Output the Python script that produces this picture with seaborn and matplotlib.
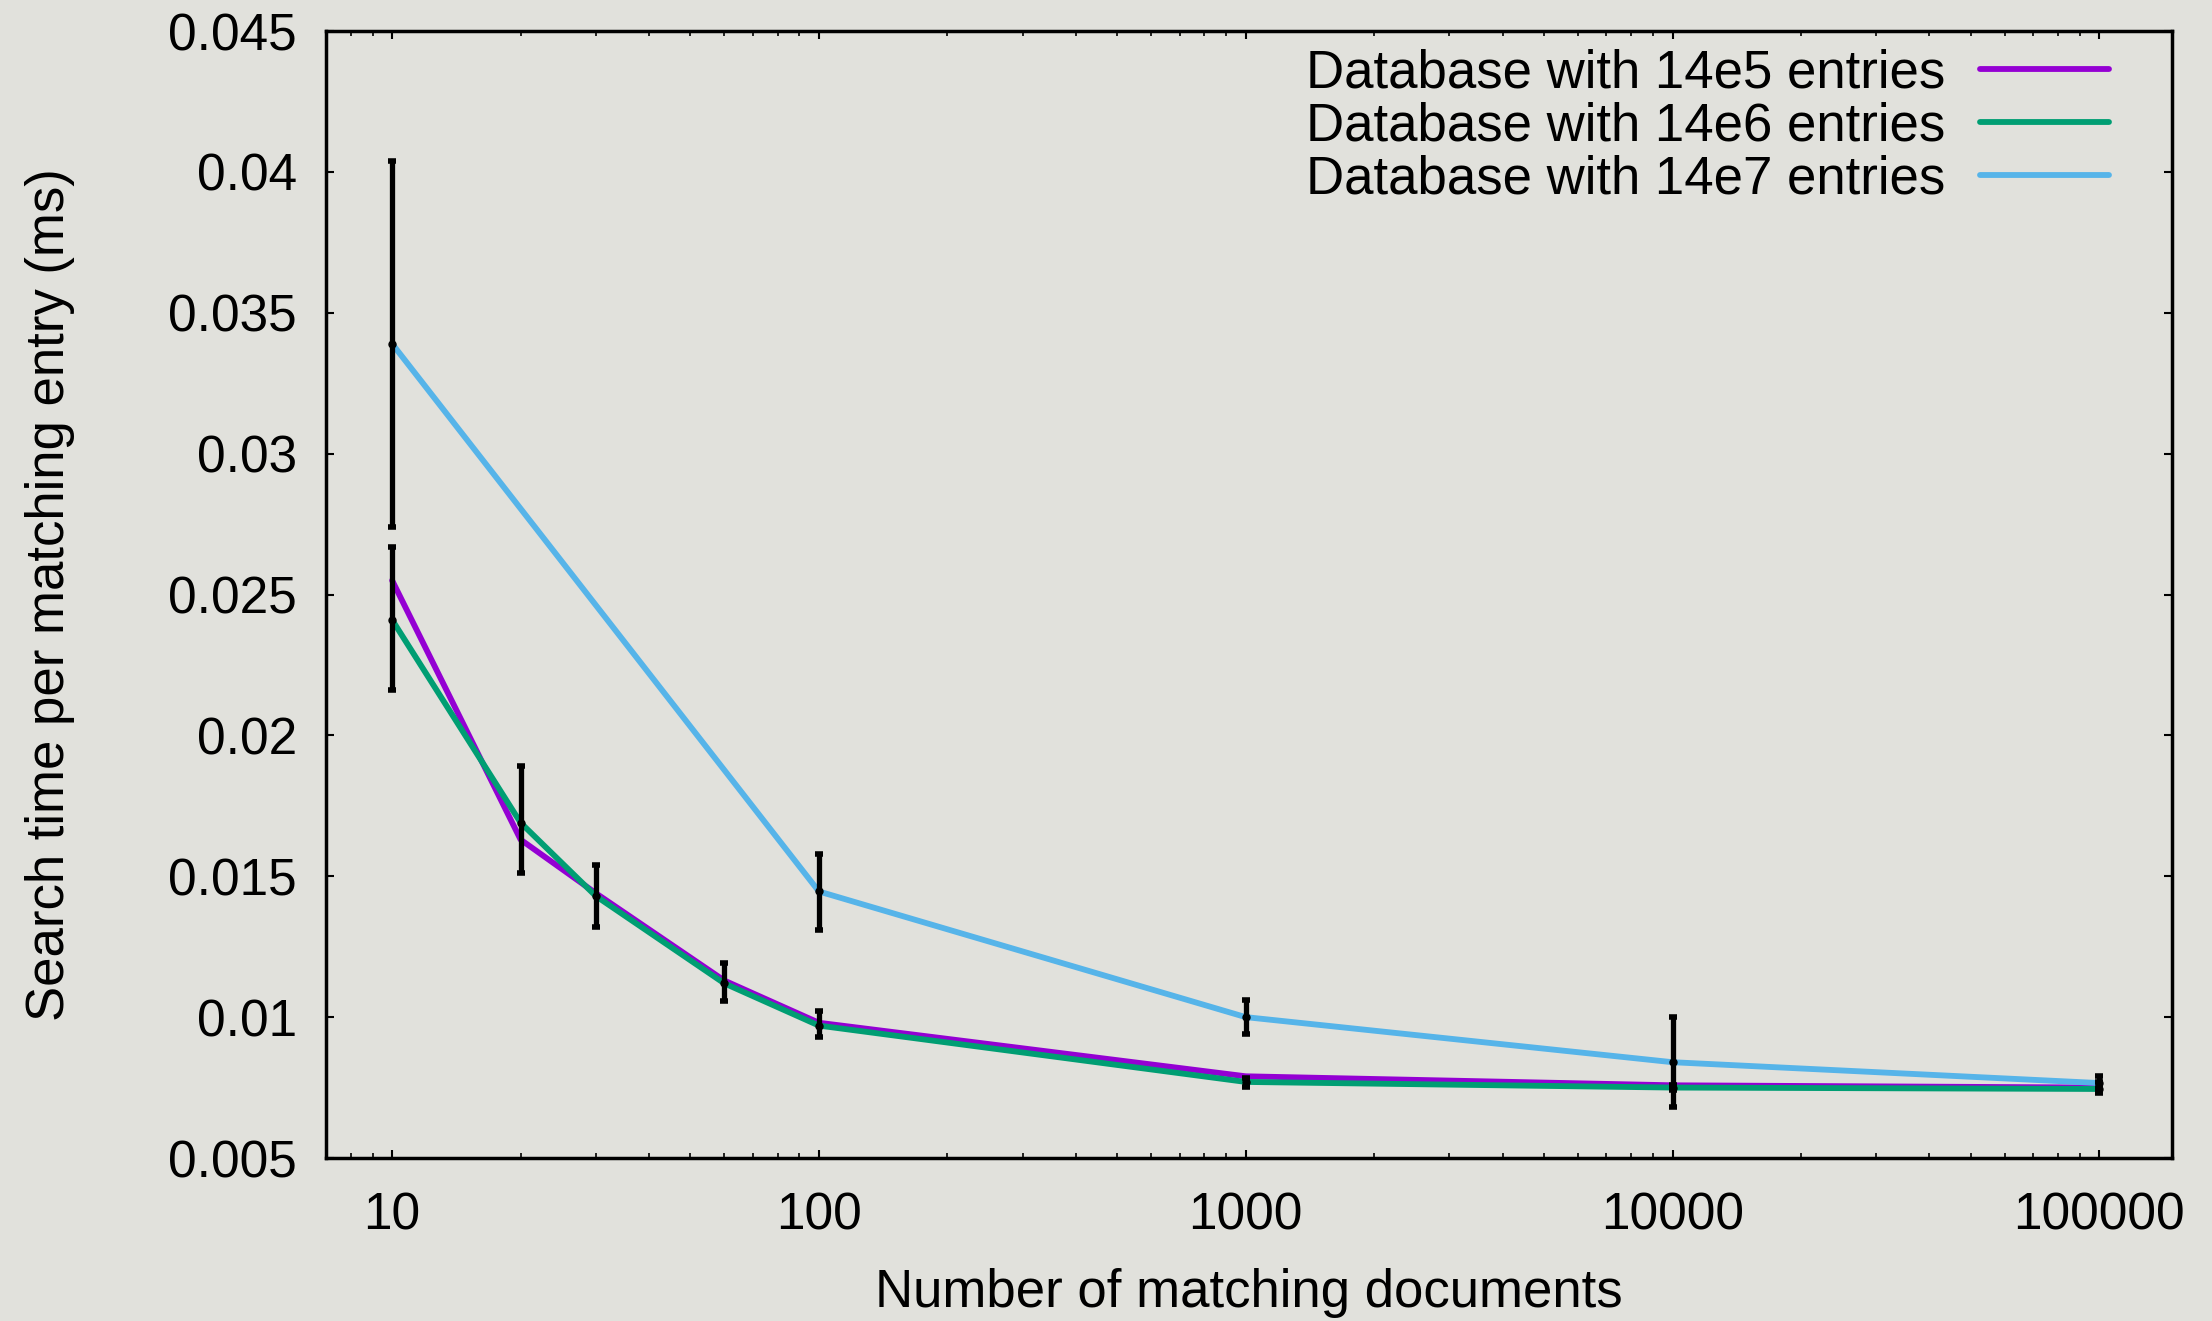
import matplotlib
matplotlib.use("Agg")
import matplotlib.pyplot as plt
from matplotlib.ticker import LogLocator, FixedLocator, NullFormatter
import numpy as np
import pandas as pd
import seaborn as sns

# data
docs = [10, 20, 30, 60, 100, 1000, 10000, 100000]
docs_big = [10, 100, 1000, 10000, 100000]

time_14e5 = [0.0255, 0.0163, 0.0144, 0.0113, 0.0098, 0.0079, 0.00758, 0.0075]
time_14e6 = [0.0241, 0.0169, 0.0143, 0.0112, 0.0097, 0.0077, 0.0075, 0.00745]
time_14e7 = [0.0339, 0.01446, 0.0100, 0.0084, 0.00766]

# error bar ranges (low, high)
lo_14e6 = [0.0216, 0.0151, 0.0132, 0.01056, 0.0093, 0.00752, 0.0074, 0.0073]
hi_14e6 = [0.0267, 0.0189, 0.0154, 0.01191, 0.0102, 0.00784, 0.0076, 0.0077]
lo_14e7 = [0.0274, 0.0131, 0.0094, 0.0068, 0.0075]
hi_14e7 = [0.0404, 0.0158, 0.0106, 0.0100, 0.0079]

labels = ["Database with 14e5 entries", "Database with 14e6 entries", "Database with 14e7 entries"]
colors = ["#9400d3", "#009e73", "#56b4e9"]
y_ticks = [0.005, 0.01, 0.015, 0.02, 0.025, 0.03, 0.035, 0.04, 0.045]
x_ticks = [10, 100, 1000, 10000, 100000]

bg = "#e1e1dc"
sns.set_style("ticks")
plt.rcParams["font.family"] = ["Liberation Sans", "DejaVu Sans"]
plt.rcParams["text.color"] = "black"
plt.rcParams["axes.labelcolor"] = "black"
plt.rcParams["xtick.color"] = "black"
plt.rcParams["ytick.color"] = "black"

fig = plt.figure(figsize=(22.12, 13.21), dpi=100, facecolor=bg)
ax = fig.add_axes([0.14738, 0.12339, 0.83454, 0.85314])
ax.set_facecolor(bg)

df5 = pd.DataFrame({"docs": docs, "time": time_14e5})
df6 = pd.DataFrame({"docs": docs, "time": time_14e6})
df7 = pd.DataFrame({"docs": docs_big, "time": time_14e7})

for d, lab, c in zip([df5, df6, df7], labels, colors):
    sns.lineplot(data=d, x="docs", y="time", color=c, label=lab, linewidth=4.2,
                 estimator=None, ax=ax, zorder=2)

# black error bars on top
for xs, ys, lo, hi in [(docs, time_14e6, lo_14e6, hi_14e6),
                       (docs_big, time_14e7, lo_14e7, hi_14e7)]:
    ys = np.array(ys)
    yerr = [ys - np.array(lo), np.array(hi) - ys]
    ax.errorbar(xs, ys, yerr=yerr, fmt="o", color="black", ms=5, elinewidth=3.8,
                capsize=3, capthick=4, zorder=3)

ax.set_xscale("log")
ax.set_xlim(7, 148000)
ax.set_ylim(0.005, 0.045)
ax.xaxis.set_major_locator(FixedLocator(x_ticks))
ax.set_xticklabels([str(v) for v in x_ticks])
ax.xaxis.set_minor_locator(LogLocator(base=10, subs=np.arange(2, 10)))
ax.xaxis.set_minor_formatter(NullFormatter())
ax.set_yticks(y_ticks)
ax.set_yticklabels([f"{v:g}" for v in y_ticks])

ax.tick_params(which="both", direction="in", top=True, right=True, colors="black")
ax.tick_params(which="major", length=6, width=1.5, labelsize=37)
ax.tick_params(which="minor", length=3.5, width=1.2)
ax.tick_params(axis="x", which="major", pad=24)
ax.tick_params(axis="y", which="major", pad=21)
for s in ax.spines.values():
    s.set_visible(True)
    s.set_linewidth(2.5)
    s.set_color("black")

ax.set_xlabel("Number of matching documents", fontsize=38)
ax.set_ylabel("Search time per matching entry (ms)", fontsize=38)
ax.xaxis.set_label_coords(0.5, -0.0975)
ax.yaxis.set_label_coords(-0.136, 0.5)

ax.legend(loc="upper right", bbox_to_anchor=(0.966, 0.9845), frameon=False,
          fontsize=38, markerfirst=False, handlelength=2.45, handletextpad=0.65,
          labelspacing=0.06, borderpad=0, borderaxespad=0, labelcolor="black")

fig.savefig("out.png", dpi=100, facecolor=bg)
